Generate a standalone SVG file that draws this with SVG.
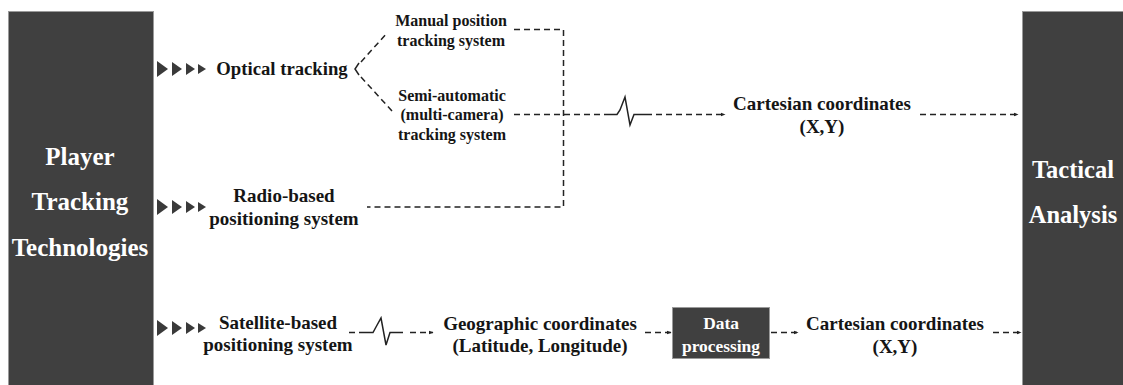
<svg xmlns="http://www.w3.org/2000/svg" width="1123" height="385" viewBox="0 0 1123 385">
<defs>
<style>
.t{font-family:"Liberation Serif","Times New Roman",serif;font-weight:bold;fill:#151515;text-anchor:middle}
.w{font-family:"Liberation Serif","Times New Roman",serif;font-weight:bold;fill:#ffffff;text-anchor:middle}
.box{fill:#404040;stroke:#9a9a9a;stroke-width:1}
.d{fill:none;stroke:#222;stroke-width:1.5;stroke-dasharray:6,4}
.s{fill:none;stroke:#222;stroke-width:1.5}
.tri{fill:#3a3a3a}
</style>
<marker id="ah" viewBox="0 0 10 10" refX="9" refY="5" markerWidth="5" markerHeight="5" orient="auto" markerUnits="userSpaceOnUse">
<path d="M0,1 L10,5 L0,9 z" fill="#222"/>
</marker>
<g id="tris">
<path class="tri" d="M0,-8 L11,0 L0,8 z"/>
<path class="tri" d="M15,-7 L25,0 L15,7 z"/>
<path class="tri" d="M29,-6 L38,0 L29,6 z"/>
<path class="tri" d="M41,-5 L49,0 L41,5 z"/>
</g>
</defs>
<rect width="1123" height="385" fill="#ffffff"/>

<g id="player-tracking">
<rect class="box" x="8.5" y="11.5" width="145" height="380"/>
<text class="w" x="80" y="165" font-size="25">Player</text>
<text class="w" x="80" y="210" font-size="25">Tracking</text>
<text class="w" x="80" y="256" font-size="25">Technologies</text>
</g>

<g id="tactical-analysis">
<rect class="box" x="1022.5" y="11.5" width="110" height="380"/>
<text class="w" x="1073" y="178" font-size="24.5">Tactical</text>
<text class="w" x="1073" y="223" font-size="24.5">Analysis</text>
</g>

<g id="optical">
<use href="#tris" x="157" y="69"/>
<text class="t" x="282" y="75" font-size="18.7">Optical tracking</text>
</g>

<g id="manual">
<text class="t" x="451" y="26" font-size="16">Manual position</text>
<text class="t" x="451" y="46" font-size="16">tracking system</text>
</g>

<g id="semi-auto">
<text class="t" x="452" y="101" font-size="16">Semi-automatic</text>
<text class="t" x="452" y="120" font-size="16">(multi-camera)</text>
<text class="t" x="452" y="140" font-size="16">tracking system</text>
</g>

<g id="radio">
<use href="#tris" x="157" y="207"/>
<text class="t" x="284" y="202" font-size="19">Radio-based</text>
<text class="t" x="284" y="225" font-size="19">positioning system</text>
</g>

<g id="satellite">
<use href="#tris" x="157" y="328"/>
<text class="t" x="278" y="329" font-size="19">Satellite-based</text>
<text class="t" x="278" y="351" font-size="19">positioning system</text>
</g>

<g id="cartesian-top">
<text class="t" x="822" y="110" font-size="19">Cartesian coordinates</text>
<text class="t" x="822" y="133" font-size="19">(X,Y)</text>
</g>

<g id="geographic">
<text class="t" x="540" y="330" font-size="19">Geographic coordinates</text>
<text class="t" x="540" y="352" font-size="19">(Latitude, Longitude)</text>
</g>

<g id="data-processing">
<rect class="box" x="672.5" y="307.5" width="97" height="51"/>
<text class="w" x="721" y="329" font-size="17.4">Data</text>
<text class="w" x="721" y="352" font-size="17.4">processing</text>
</g>

<g id="cartesian-bottom">
<text class="t" x="895" y="330" font-size="19">Cartesian coordinates</text>
<text class="t" x="895" y="353" font-size="19">(X,Y)</text>
</g>

<g id="connectors">
<path class="s" d="M359,63 L355,69 L359,75"/>
<path class="d" d="M361,62 L387,33"/>
<path class="d" d="M361,77 L392,111"/>
<path class="d" d="M514,29.5 L563.5,29.5 L563.5,207 L367,207"/>
<path class="d" d="M514,114.5 L606,114.5"/>
<path class="s" d="M606,114.5 L617,114.5 L620,110 L625,97 L630,125 L634,114.5 L652,114.5"/>
<path class="d" d="M656,114.5 L725,114.5" marker-end="url(#ah)"/>
<path class="d" d="M920,114.5 L1018,114.5" marker-end="url(#ah)"/>
<path class="d" d="M349,332.5 L360,332.5"/>
<path class="s" d="M360,332.5 L373,332.5 L376,327 L381,318 L386,345 L390,332.5 L403,332.5"/>
<path class="d" d="M410,332.5 L433,332.5" marker-end="url(#ah)"/>
<path class="d" d="M645,332.5 L671,332.5" marker-end="url(#ah)"/>
<path class="d" d="M771,332.5 L798,332.5" marker-end="url(#ah)"/>
<path class="d" d="M993,332.5 L1021,332.5" marker-end="url(#ah)"/>
</g>
</svg>
